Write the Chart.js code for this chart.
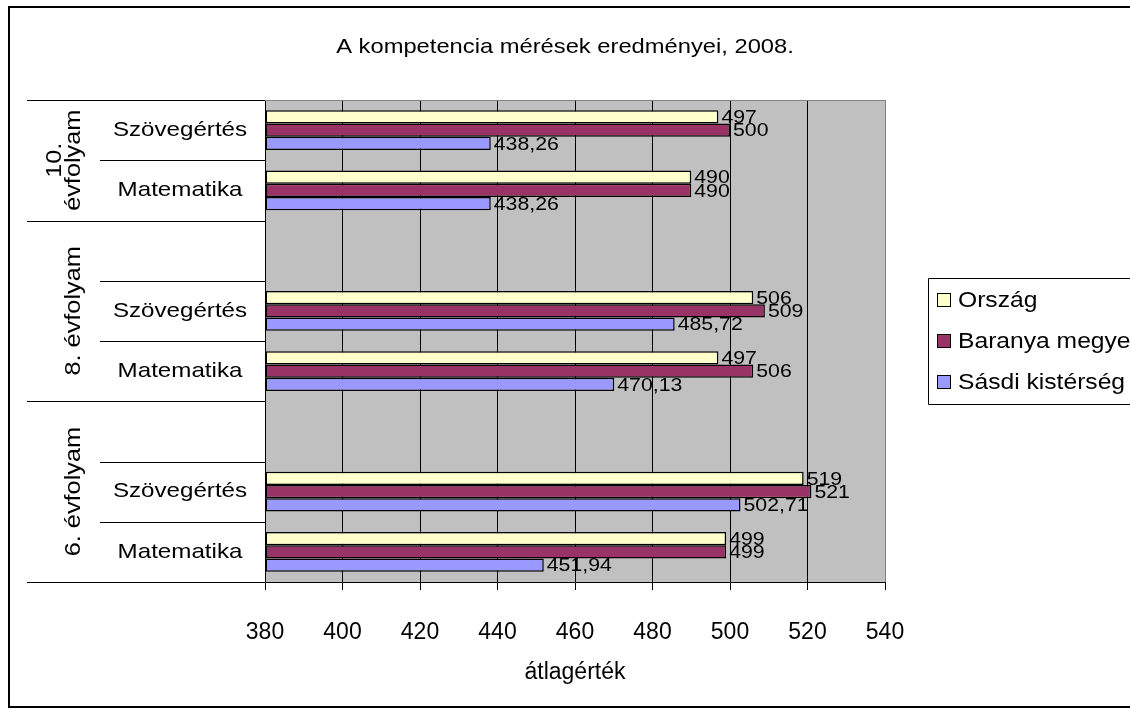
<!DOCTYPE html>
<html>
<head>
<meta charset="utf-8">
<script src="https://cdn.jsdelivr.net/npm/chart.js@4.4.1/dist/chart.umd.min.js"></script>
<style>
  body { margin: 0; background: #fff; overflow: hidden; }
</style>
</head>
<body>
<canvas id="myChart" width="1130" height="715"></canvas>
<script>
const FONT = "'Liberation Sans', Arial, sans-serif";

// rows top to bottom, "" = empty spacer row
const categories = ["Szövegértés", "Matematika", "", "Szövegértés", "Matematika", "", "Szövegértés", "Matematika"];
const gradeLabels = [["10.", "évfolyam"], ["8. évfolyam"], ["6. évfolyam"]];
const gradeRows = [2, 3, 3];

const seriesNames = ["Ország", "Baranya megye", "Sásdi kistérség"];
const orszag = [497, 490, null, 506, 497, null, 519, 499];
const baranya = [500, 490, null, 509, 506, null, 521, 499];
const sasdi = [438.26, 438.26, null, 485.72, 470.13, null, 502.71, 451.94];

const seriesColors = ["#FFFFCC", "#993366", "#9999FF"];

const chartTitle = "A kompetencia mérések eredményei, 2008.";
const axisTitle = "átlagérték";

const ctx = document.getElementById("myChart").getContext("2d");

// text a bit wider than the font, like the original export
function wideText(c, txt, x, y, size, sx, align) {
  c.save();
  c.font = size + "px " + FONT;
  c.textAlign = align || "left";
  c.translate(x, y);
  c.scale(sx, 1);
  c.fillText(txt, 0, 0);
  c.restore();
}

// gray plot background
const bgPlugin = {
  id: "bg",
  beforeDraw(chart) {
    const a = chart.chartArea;
    const c = chart.ctx;
    c.save();
    c.fillStyle = "#C0C0C0";
    c.fillRect(a.left, a.top, a.right - a.left, a.bottom - a.top);
    c.restore();
  },
  afterDatasetsDraw(chart) {
    const a = chart.chartArea;
    const c = chart.ctx;
    c.save();
    c.strokeStyle = "#808080";
    c.lineWidth = 1;
    c.beginPath();
    c.moveTo(a.left, a.top + 0.5);
    c.lineTo(a.right + 0.5, a.top + 0.5);
    c.lineTo(a.right + 0.5, a.bottom);
    c.stroke();
    c.restore();
  }
};

// value labels at the end of the bars
const valuePlugin = {
  id: "values",
  afterDatasetsDraw(chart) {
    const c = chart.ctx;
    c.save();
    c.fillStyle = "#000";
    c.textBaseline = "middle";
    chart.data.datasets.forEach((ds, i) => {
      const meta = chart.getDatasetMeta(i);
      meta.data.forEach((bar, j) => {
        const v = ds.data[j];
        if (v == null) return;
        wideText(c, String(v).replace(".", ","), bar.x + 3, bar.y + 1, 19, 1.12);
      });
    });
    c.restore();
  }
};

// category table on the left, title, legend, outer frame
const framePlugin = {
  id: "frame",
  afterDraw(chart) {
    const c = chart.ctx;
    const a = chart.chartArea;
    const ys = chart.scales.y;
    const step = (a.bottom - a.top) / categories.length;
    c.save();

    // outer frame (right side falls outside the picture)
    c.strokeStyle = "#000";
    c.lineWidth = 2;
    c.beginPath();
    c.moveTo(1200, 7);
    c.lineTo(9, 7);
    c.lineTo(9, 707);
    c.lineTo(1200, 707);
    c.stroke();

    // table lines
    c.lineWidth = 1;
    const groupEdges = [0];
    gradeRows.forEach(n => groupEdges.push(groupEdges[groupEdges.length - 1] + n));
    for (let k = 0; k <= categories.length; k++) {
      const y = Math.round(a.top + k * step) + 0.5;
      const x0 = groupEdges.includes(k) ? 27 : 100;
      c.beginPath();
      c.moveTo(x0, y);
      c.lineTo(a.left, y);
      c.stroke();
    }

    // inner labels
    c.fillStyle = "#000";
    c.textBaseline = "middle";
    categories.forEach((lab, i) => {
      if (!lab) return;
      wideText(c, lab, 180, ys.getPixelForValue(i), 21, 1.15, "center");
    });

    // rotated grade labels
    let start = 0;
    gradeLabels.forEach((lines, g) => {
      const yMid = a.top + (start + gradeRows[g] / 2) * step;
      start += gradeRows[g];
      lines.forEach((txt, k) => {
        const x = 74 - (lines.length - 1 - k) * 19;
        c.save();
        c.translate(x, yMid);
        c.rotate(-Math.PI / 2);
        wideText(c, txt, 0, 0, 22, 1.15, "center");
        c.restore();
      });
    });

    // title
    wideText(c, chartTitle, 565, 47, 21, 1.13, "center");

    // legend
    c.strokeStyle = "#000";
    c.lineWidth = 1;
    c.beginPath();
    c.moveTo(1200, 278.5);
    c.lineTo(928.5, 278.5);
    c.lineTo(928.5, 404.5);
    c.lineTo(1200, 404.5);
    c.stroke();
    chart.data.datasets.forEach((ds, i) => {
      const yc = 300 + i * 41;
      c.fillStyle = ds.backgroundColor;
      c.fillRect(937, yc - 7, 14, 14);
      c.strokeRect(937.5, yc - 6.5, 13, 13);
      c.fillStyle = "#000";
      wideText(c, ds.label, 958, yc + 1, 22, 1.12);
    });

    c.restore();
  }
};

const datasetList = [orszag, baranya, sasdi].map((d, i) => ({
  label: seriesNames[i],
  data: d,
  backgroundColor: seriesColors[i],
  borderColor: "#000",
  borderWidth: 1.5,
  borderSkipped: false,
  base: 380
}));

const myChart = new Chart(ctx, {
  type: "bar",
  data: {
    labels: categories,
    datasets: datasetList
  },
  options: {
    indexAxis: "y",
    responsive: false,
    animation: false,
    devicePixelRatio: 1,
    categoryPercentage: 0.66,
    barPercentage: 1,
    layout: { padding: { left: 265, right: 245, top: 100, bottom: 0 } },
    scales: {
      x: {
        min: 380,
        max: 540,
        ticks: {
          stepSize: 20,
          color: "#000",
          font: { family: FONT, size: 23 },
          padding: 29
        },
        grid: {
          color: (c) => (c.tick && c.tick.value === 540 ? "#808080" : "#000"),
          tickColor: "#000",
          tickLength: 8
        },
        border: { color: "#000" },
        title: {
          display: true,
          text: axisTitle,
          color: "#000",
          font: { family: FONT, size: 23 },
          padding: { top: 0, bottom: 29 }
        },
        afterFit(scale) { scale.height = 133; }
      },
      y: {
        ticks: { display: false },
        grid: { display: false },
        border: { color: "#000" },
        afterFit(scale) { scale.width = 0; }
      }
    },
    plugins: {
      legend: { display: false },
      title: { display: false },
      tooltip: { enabled: false }
    }
  },
  plugins: [bgPlugin, valuePlugin, framePlugin]
});
</script>
</body>
</html>
